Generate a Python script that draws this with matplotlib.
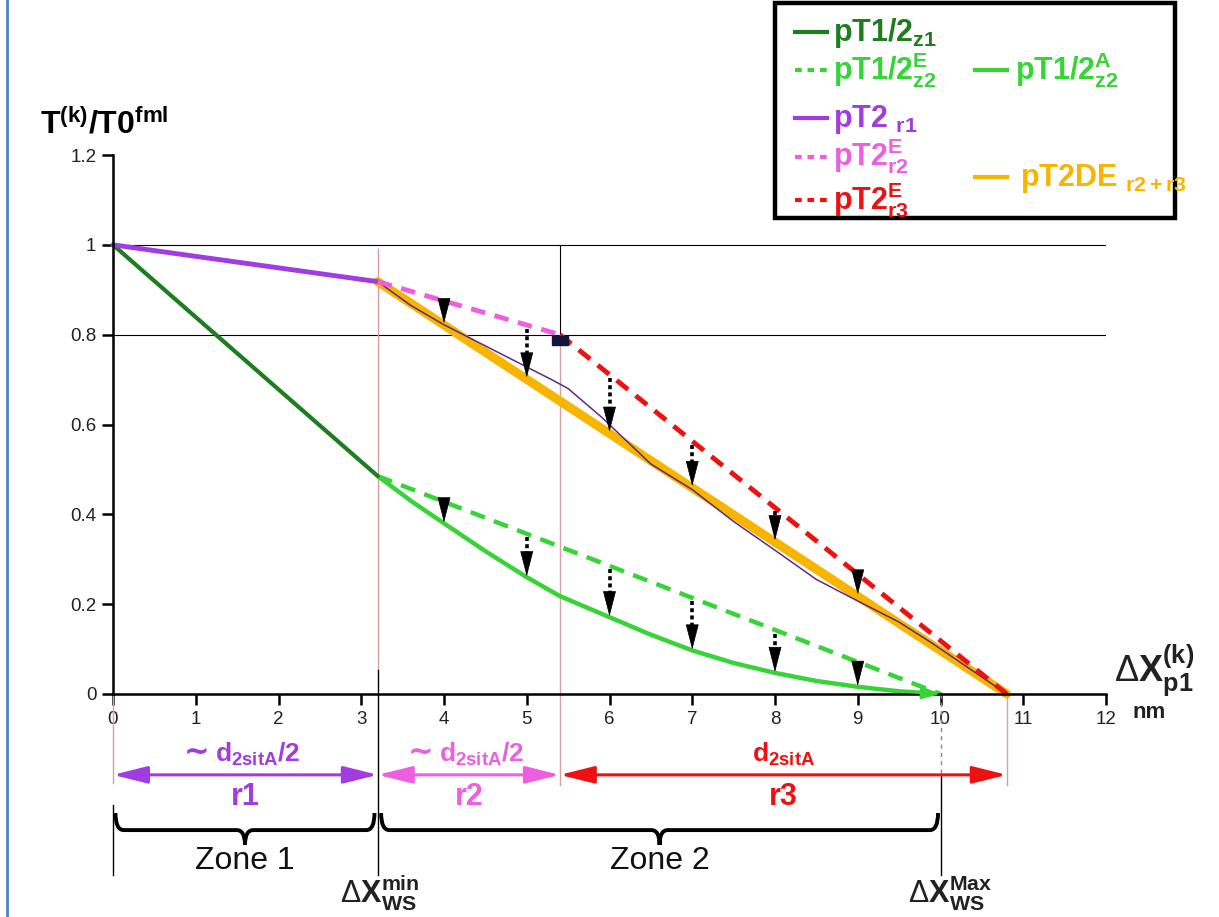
import numpy as np
import matplotlib.pyplot as plt
from matplotlib.lines import Line2D
from matplotlib.patches import Rectangle, PathPatch
from matplotlib.path import Path

plt.rcParams['font.family'] = ['Liberation Sans', 'DejaVu Sans']
plt.rcParams['mathtext.fontset'] = 'custom'
plt.rcParams['mathtext.rm'] = 'Liberation Sans'
plt.rcParams['mathtext.bf'] = 'Liberation Sans:bold'
plt.rcParams['mathtext.it'] = 'Liberation Sans:italic'

# ---- data ----
# zone 1, dark green
z1_x = [0.0, 3.2]
z1_y = [1.0, 0.485]
# zone 2, envelope (dashed) and actual (solid)
z2e_x = [3.2, 10.0]
z2e_y = [0.485, 0.0]
z2a_x = [3.2, 3.6, 4.0, 4.5, 5.0, 5.4, 6.0, 6.5, 7.0, 7.5, 8.0, 8.5, 9.0, 9.5, 10.0]
z2a_y = [0.485, 0.43, 0.38, 0.318, 0.26, 0.218, 0.171, 0.132, 0.097, 0.069, 0.047, 0.029, 0.016, 0.006, 0.0]
# pT2 pieces
r1_x = [0.0, 3.2]
r1_y = [1.0, 0.918]
r2e_x = [3.2, 5.4]
r2e_y = [0.918, 0.8]
r3e_x = [5.4, 10.8]
r3e_y = [0.8, 0.0]
de_x = [3.2, 10.8]
de_y = [0.918, 0.0]
# thin purple curve (no legend entry)
thin_x = [3.2, 3.6, 4.0, 4.5, 5.0, 5.3, 5.5, 5.9, 6.5, 7.0, 7.5, 8.0, 8.5, 9.0, 9.5, 9.9, 10.8]
thin_y = [0.918, 0.865, 0.822, 0.775, 0.728, 0.700, 0.680, 0.617, 0.512, 0.455, 0.384, 0.32, 0.255, 0.207, 0.16, 0.113, 0.0]
# dotted arrow positions
arrow_x = [4, 5, 6, 7, 8, 9]
# special abscissae
dx_ws_min = 3.2
x_r2_end = 5.4
dx_ws_max = 10.0
x_end = 10.8
y_mark = 0.8

x_ticks = list(range(0, 13))
y_ticks = [0, 0.2, 0.4, 0.6, 0.8, 1.0, 1.2]
y_tick_labels = ['0', '0.2', '0.4', '0.6', '0.8', '1', '1.2']

# colours
c_dgreen = '#1e7d1e'
c_lgreen = '#36d436'
c_purple = '#a03ce0'
c_pink = '#ee5fe0'
c_red = '#ee1111'
c_orange = '#f7b500'
c_thin = '#5c2a8c'
c_pale = '#d8a0a0'

W, H = 1219, 917
fig = plt.figure(figsize=(W / 100, H / 100), dpi=100)
ax = fig.add_axes([113 / W, 223 / H, (1106 - 113) / W, (694 - 155) / H])
ax.set_xlim(0, 12)
ax.set_ylim(0, 1.2)
for s in ['top', 'right']:
    ax.spines[s].set_visible(False)
for s in ['left', 'bottom']:
    ax.spines[s].set_linewidth(1.8)
ax.set_xticks(x_ticks)
ax.set_xticklabels([str(t) for t in x_ticks], fontsize=13.5)
ax.set_yticks(y_ticks)
ax.set_yticklabels(y_tick_labels, fontsize=13.5)
ax.tick_params(direction='out', length=8, width=1.8, labelcolor='#222222', pad=4)

# reference lines
ax.axhline(1.0, color='black', lw=0.8)
ax.axhline(y_mark, color='black', lw=0.8)
ax.plot([x_r2_end, x_r2_end], [1.0, y_mark], color='black', lw=0.8)

# vertical guides (also below the axis)
kw = dict(clip_on=False, lw=1.0)
ax.plot([0, 0], [0, -0.198], color=c_pale, **kw)
ax.plot([0, 0], [-0.247, -0.403], color='black', **kw)
ax.plot([dx_ws_min, dx_ws_min], [0.99, 0.053], color=c_pale, **kw)
ax.plot([dx_ws_min, dx_ws_min], [0.053, -0.403], color='black', **kw)
ax.plot([x_r2_end, x_r2_end], [y_mark, -0.203], color=c_pale, **kw)
ax.plot([dx_ws_max, dx_ws_max], [0, -0.18], color='#888888', ls=(0, (3, 3)), **kw)
ax.plot([dx_ws_max, dx_ws_max], [-0.18, -0.403], color='black', **kw)
ax.plot([x_end, x_end], [0, -0.203], color=c_pale, **kw)

# curves
ax.plot(z2e_x, z2e_y, color=c_lgreen, lw=3.2, ls=(0, (3.4, 2.2)), clip_on=False)
ax.plot(z2a_x, z2a_y, color=c_lgreen, lw=3.2, clip_on=False, solid_capstyle='round')
ax.annotate('', xy=(z2a_x[-1], z2a_y[-1]), xytext=(z2a_x[-2], z2a_y[-2]),
            arrowprops=dict(arrowstyle='-|>,head_length=0.9,head_width=0.3', color=c_lgreen,
                            lw=2, shrinkA=0, shrinkB=0, mutation_scale=12), annotation_clip=False)
ax.plot(z1_x, z1_y, color=c_dgreen, lw=3, clip_on=False, solid_capstyle='round')
ax.plot(de_x, de_y, color=c_orange, lw=6.5, clip_on=False, solid_capstyle='round')
ax.plot(thin_x, thin_y, color=c_thin, lw=1.1, clip_on=False)
ax.plot(r1_x, r1_y, color=c_purple, lw=3.5, clip_on=False, solid_capstyle='round')
ax.plot(r2e_x, r2e_y, color=c_pink, lw=3.5, ls=(0, (3, 2)))
ax.plot(r3e_x, r3e_y, color=c_red, lw=3.5, ls=(0, (3, 2)), clip_on=False)
ax.add_patch(Rectangle((x_r2_end - 0.1, y_mark - 0.023), 0.2, 0.02, color='#14143c', zorder=5))

# dotted arrows from envelope to actual curves (dotted shaft + solid head)
up_env_x = r2e_x + r3e_x[1:]
up_env_y = r2e_y + r3e_y[1:]
head = 0.038
for xa in arrow_x:
    pairs = [(np.interp(xa, up_env_x, up_env_y) - 0.008, np.interp(xa, de_x, de_y) + 0.004),
             (np.interp(xa, z2e_x, z2e_y) - 0.008, np.interp(xa, z2a_x, z2a_y) + 0.002)]
    for y0, y1 in pairs:
        ax.plot([xa, xa], [y0, y1 + head * 0.9], color='black', lw=2.6,
                ls=(0, (1.1, 0.9)), zorder=6)
        ax.annotate('', xy=(xa, y1), xytext=(xa, y1 + head),
                    arrowprops=dict(arrowstyle='-|>,head_length=1.4,head_width=0.36', color='black',
                                    lw=0.5, shrinkA=0, shrinkB=0, mutation_scale=12), zorder=6)

# double arrows under the axis
y_arr = -0.18
segs = [(0, dx_ws_min, c_purple, r'd$_\mathbf{2sitA}$/2', 'r1', True),
        (dx_ws_min, x_r2_end, c_pink, r'd$_\mathbf{2sitA}$/2', 'r2', True),
        (x_r2_end, x_end, c_red, r'd$_\mathbf{2sitA}$', 'r3', False)]
for xa, xb, col, top, bot, tilde in segs:
    ax.annotate('', xy=(xb, y_arr), xytext=(xa, y_arr),
                arrowprops=dict(arrowstyle='<|-|>,head_length=1.4,head_width=0.35', color=col,
                                lw=2.2, shrinkA=0, shrinkB=0, mutation_scale=15),
                annotation_clip=False)
    xm = (xa + xb) / 2
    t = ax.text(xm + (0.15 if tilde else 0), -0.152, top, color=col, fontsize=19,
                fontweight='bold', ha='center', va='baseline')
    if tilde:
        ax.annotate('~', xy=(0, 0), xycoords=t, xytext=(-4, 1), textcoords='offset points',
                    ha='right', va='bottom', color=col, fontsize=22, fontweight='bold',
                    family='DejaVu Sans')
    ax.text(xm, -0.248, bot, color=col, fontsize=22, fontweight='bold', ha='center', va='baseline')


# curly braces
def brace(x0, x1, y_top=-0.265, y_mid=-0.303, y_tip=-0.336, r=0.1):
    xm = (x0 + x1) / 2
    verts = [(x0, y_top), (x0, y_mid), (x0 + r, y_mid),
             (xm - r, y_mid), (xm, y_mid), (xm, y_tip),
             (xm, y_mid), (xm + r, y_mid),
             (x1 - r, y_mid), (x1, y_mid), (x1, y_top)]
    codes = [Path.MOVETO, Path.CURVE3, Path.CURVE3,
             Path.LINETO, Path.CURVE3, Path.CURVE3,
             Path.CURVE3, Path.CURVE3,
             Path.LINETO, Path.CURVE3, Path.CURVE3]
    ax.add_patch(PathPatch(Path(verts, codes), fill=False, lw=2.8, color='black', clip_on=False))
    return xm


xm1 = brace(0.03, dx_ws_min - 0.04)
xm2 = brace(dx_ws_min + 0.04, dx_ws_max - 0.03)
ax.text(xm1, -0.39, 'Zone 1', fontsize=23, ha='center', va='baseline', color='#111111')
ax.text(xm2, -0.39, 'Zone 2', fontsize=23, ha='center', va='baseline', color='#111111')
ax.text(dx_ws_min + 0.03, -0.465, r'$\Delta\mathbf{X}_\mathbf{WS}^\mathbf{min}$', fontsize=22,
        ha='center', va='baseline', color='#222222')
ax.text(dx_ws_max + 0.12, -0.465, r'$\Delta\mathbf{X}_\mathbf{WS}^\mathbf{Max}$', fontsize=22,
        ha='center', va='baseline', color='#222222')

# axis titles
fig.text(40 / W, 1 - 133 / H, r'T$^\mathbf{(k)}$/T0$^\mathbf{fml}$', fontsize=23,
         fontweight='bold', ha='left', va='baseline')
fig.text(1114 / W, 1 - 681 / H, r'$\Delta\mathbf{X}_\mathbf{p1}^\mathbf{(k)}$', fontsize=26,
         ha='left', va='baseline', color='#222222')
fig.text(1132 / W, 1 - 718 / H, 'nm', fontsize=16, fontweight='bold', ha='left', va='baseline',
         color='#222222')

# hand-made legend box
fig.add_artist(Rectangle((775 / W, 1 - 218 / H), 400 / W, 215 / H, transform=fig.transFigure,
                         fill=False, lw=3.2, edgecolor='black'))
legend_rows = [
    (795, 32, c_dgreen, '-', r'pT1/2$_\mathbf{z1}$', 833),
    (795, 70, c_lgreen, '--', r'pT1/2$_\mathbf{z2}^\mathbf{E}$', 833),
    (975, 70, c_lgreen, '-', r'pT1/2$_\mathbf{z2}^\mathbf{A}$', 1015),
    (795, 118, c_purple, '-', r'pT2 $_\mathbf{r1}$', 833),
    (795, 157, c_pink, '--', r'pT2$_\mathbf{r2}^\mathbf{E}$', 833),
    (795, 200, c_red, '--', r'pT2$_\mathbf{r3}^\mathbf{E}$', 833),
    (975, 177, c_orange, '-', r'pT2DE $_\mathbf{r2+r3}$', 1020),
]
for lx, ly, col, ls, label, tx in legend_rows:
    fig.add_artist(Line2D([lx / W, (lx + 32) / W], [1 - ly / H, 1 - ly / H], transform=fig.transFigure,
                          color=col, lw=3, ls=(0, (1.6, 1.4)) if ls == '--' else '-'))
    fig.text(tx / W, 1 - (ly + 9) / H, label, color=col, fontsize=22, fontweight='bold',
             ha='left', va='baseline')

# page border on the left
fig.add_artist(Line2D([7 / W, 7 / W], [0, 1], transform=fig.transFigure, color='#4a86c8', lw=2))

fig.savefig('out.png', dpi=100)
